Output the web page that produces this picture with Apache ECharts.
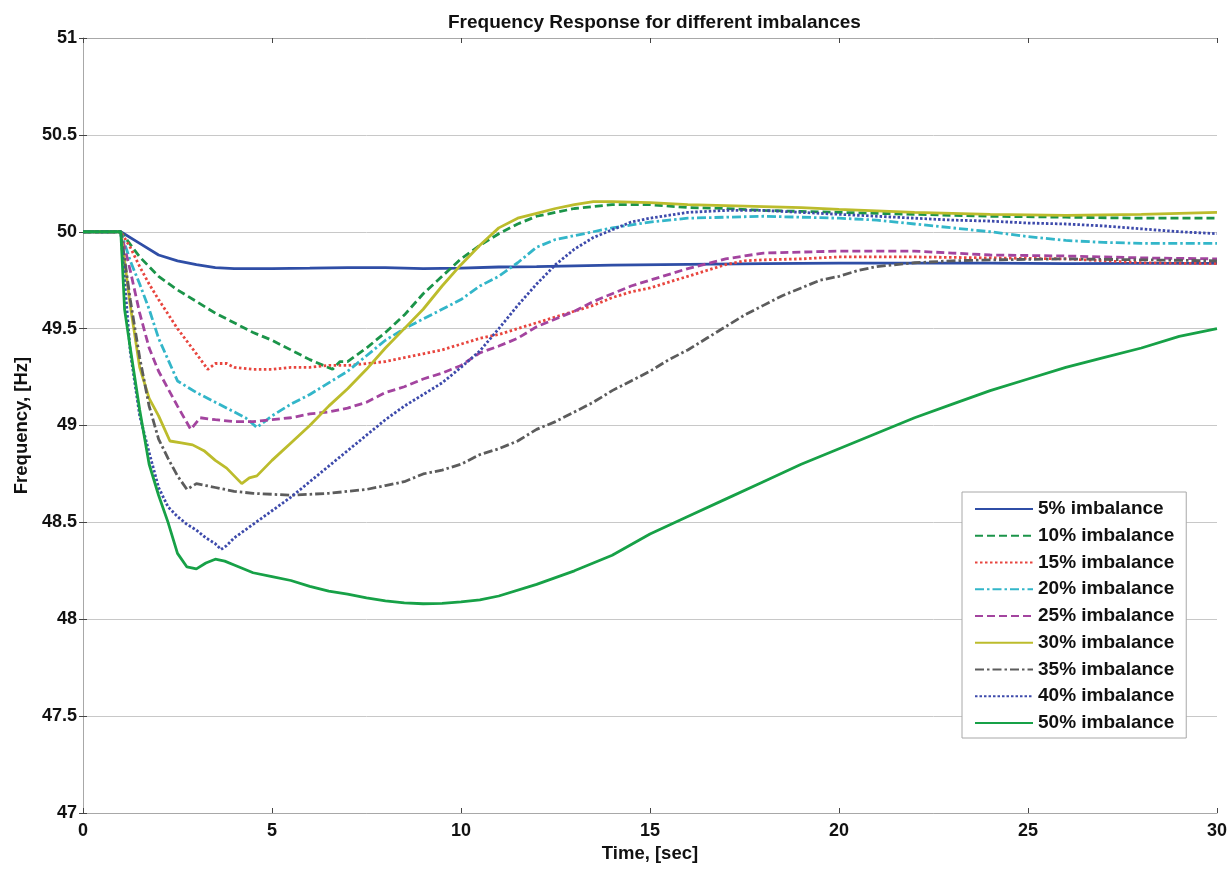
<!DOCTYPE html>
<html>
<head>
<meta charset="utf-8">
<script src="https://cdn.jsdelivr.net/npm/echarts@6/dist/echarts.min.js"></script>
<style>
html,body{margin:0;padding:0;background:#fff;}
#chart{width:1230px;height:869px;}
</style>
</head>
<body>
<div id="chart"></div>
<script>
// ---- data ----
var seriesNames = ['5% imbalance','10% imbalance','15% imbalance','20% imbalance','25% imbalance','30% imbalance','35% imbalance','40% imbalance','50% imbalance'];

var t05 = [0,1,1.5,2,2.5,3,3.5,4,5,6,7,8,9,10,11,12,14,16,18,20,22,24,26,28,30];
var f05 = [50,50,49.94,49.88,49.85,49.83,49.815,49.81,49.81,49.812,49.815,49.815,49.81,49.812,49.818,49.82,49.828,49.832,49.835,49.838,49.838,49.838,49.836,49.837,49.837];

var t10 = [0,1,1.5,2,2.5,3,3.5,4,4.5,5,5.5,6,6.6,6.8,7,7.5,8,8.5,9,9.5,10,10.5,11,11.5,12,12.5,13,13.5,14,15,16,17,18,19,20,22,24,26,28,30];
var f10 = [50,50,49.87,49.77,49.70,49.64,49.58,49.53,49.48,49.44,49.39,49.34,49.29,49.33,49.33,49.40,49.48,49.57,49.68,49.77,49.86,49.93,49.99,50.04,50.08,50.10,50.12,50.13,50.14,50.14,50.125,50.12,50.11,50.105,50.10,50.09,50.08,50.075,50.07,50.07];

var t15 = [0,1,1.25,1.5,1.75,2,2.5,3,3.3,3.5,3.8,4,4.5,5,5.5,6,6.5,7,7.5,8,8.5,9,9.5,10,10.5,11,11.5,12,12.5,13,13.5,14,14.5,15,15.5,16,16.5,17,17.5,18,19,20,22,24,26,28,30];
var f15 = [50,50,49.92,49.82,49.73,49.65,49.50,49.37,49.29,49.32,49.32,49.30,49.29,49.29,49.30,49.30,49.31,49.31,49.32,49.33,49.35,49.37,49.39,49.42,49.45,49.47,49.50,49.53,49.56,49.59,49.62,49.66,49.69,49.71,49.74,49.77,49.80,49.83,49.85,49.855,49.86,49.87,49.87,49.865,49.86,49.84,49.835];

var t20 = [0,1,1.25,1.5,1.75,2,2.5,3,3.5,4,4.3,4.6,5,5.5,6,6.5,7,7.5,8,8.5,9,9.5,10,10.5,11,11.5,12,12.5,13,13.5,14,15,16,17,18,19,20,21,22,23,24,25,26,27,28,29,30];
var f20 = [50,50,49.85,49.73,49.60,49.45,49.23,49.17,49.12,49.07,49.04,48.99,49.05,49.11,49.16,49.22,49.28,49.36,49.44,49.50,49.55,49.60,49.65,49.72,49.77,49.84,49.92,49.96,49.98,50.00,50.02,50.05,50.07,50.075,50.08,50.075,50.07,50.06,50.04,50.02,50.00,49.975,49.955,49.945,49.94,49.94,49.94];

var t25 = [0,1,1.25,1.5,1.75,2,2.5,2.85,3.1,3.5,4,4.5,5,5.5,6,6.5,7,7.5,8,8.5,9,9.5,10,10.5,11,11.5,12,12.5,13,13.5,14,14.5,15,16,17,18,19,20,21,22,23,24,26,28,30];
var f25 = [50,50,49.80,49.58,49.40,49.28,49.10,48.98,49.04,49.03,49.02,49.02,49.03,49.04,49.06,49.07,49.09,49.12,49.17,49.20,49.24,49.27,49.31,49.375,49.41,49.45,49.51,49.55,49.59,49.64,49.68,49.72,49.75,49.81,49.86,49.89,49.895,49.90,49.90,49.90,49.89,49.88,49.875,49.865,49.86];

var t30 = [0,1,1.25,1.5,1.75,2,2.3,2.6,2.9,3.2,3.5,3.8,4.0,4.2,4.4,4.6,5,5.5,6,6.5,7,7.5,8,8.5,9,9.5,10,10.5,11,11.5,12,12.5,13,13.5,14,15,16,17,18,19,20,22,24,26,28,30];
var f30 = [50,50,49.62,49.30,49.14,49.05,48.92,48.91,48.90,48.87,48.82,48.78,48.74,48.70,48.73,48.74,48.82,48.91,49.00,49.10,49.19,49.29,49.40,49.50,49.60,49.72,49.83,49.93,50.02,50.07,50.095,50.12,50.14,50.155,50.155,50.15,50.14,50.135,50.13,50.125,50.115,50.10,50.09,50.085,50.09,50.10];

var t35 = [0,1,1.25,1.5,1.75,2,2.25,2.5,2.75,3,3.25,3.5,4,4.5,5,5.5,6,6.5,7,7.5,8,8.5,9,9.5,10,10.5,11,11.5,12,12.5,13,13.5,14,14.5,15,15.5,16,16.5,17,17.5,18,18.5,19,19.5,20,20.5,21,22,23,24,26,28,30];
var f35 = [50,50,49.65,49.35,49.10,48.93,48.83,48.74,48.67,48.70,48.69,48.68,48.66,48.65,48.645,48.64,48.645,48.65,48.66,48.67,48.69,48.71,48.75,48.77,48.80,48.85,48.88,48.92,48.98,49.02,49.07,49.12,49.18,49.23,49.28,49.34,49.39,49.45,49.51,49.57,49.62,49.67,49.71,49.75,49.77,49.80,49.82,49.84,49.85,49.855,49.86,49.855,49.85];

var t40 = [0,1,1.25,1.5,1.75,2,2.25,2.5,2.75,3,3.25,3.5,3.65,3.8,4,4.5,5,5.5,6,6.5,7,7.5,8,8.5,9,9.5,10,10.5,11,11.5,12,12.5,13,13.5,14,14.5,15,16,17,18,19,20,21,22,23,24,25,26,27,28,29,30];
var f40 = [50,50,49.38,49.05,48.86,48.68,48.58,48.53,48.49,48.46,48.42,48.39,48.36,48.38,48.42,48.49,48.56,48.63,48.71,48.79,48.87,48.95,49.03,49.10,49.16,49.22,49.30,49.385,49.50,49.62,49.73,49.83,49.91,49.97,50.01,50.05,50.07,50.10,50.11,50.11,50.10,50.09,50.08,50.07,50.06,50.055,50.045,50.04,50.03,50.015,50.00,49.99];

var t50 = [0,1,1.1,1.25,1.5,1.75,2,2.25,2.5,2.75,3,3.25,3.5,3.75,4,4.5,5,5.5,6,6.5,7,7.5,8,8.5,9,9.5,10,10.5,11,12,13,14,15,16,17,18,19,20,21,22,23,24,25,26,27,28,29,30];
var f50 = [50,50,49.60,49.40,49.08,48.80,48.64,48.50,48.34,48.27,48.26,48.29,48.31,48.30,48.28,48.24,48.22,48.20,48.17,48.145,48.13,48.11,48.095,48.085,48.08,48.082,48.09,48.10,48.12,48.18,48.25,48.33,48.44,48.53,48.62,48.71,48.80,48.88,48.96,49.04,49.11,49.18,49.24,49.30,49.35,49.40,49.46,49.50];

var xTicks = [0,5,10,15,20,25,30];
var yTicks = [47,47.5,48,48.5,49,49.5,50,50.5,51];

// ---- build ----
var times = [t05,t10,t15,t20,t25,t30,t35,t40,t50];
var freqs = [f05,f10,f15,f20,f25,f30,f35,f40,f50];
var colors = ['#2f4ea6','#1b9449','#e8453e','#33b6c9','#a3449f','#bcbc2c','#5c5c5c','#3d4aab','#17a147'];
var dashes = ['solid',[8,4],[2.5,2.5],[9,3,2.5,3],[8,4],'solid',[9,3,2.5,3],[2.5,2],'solid'];

function pairs(t,f){var out=[];for(var i=0;i<t.length;i++){out.push([t[i],f[i]]);}return out;}

var series = seriesNames.map(function(n,i){
  return {
    name:n, type:'line', xAxisIndex:0, yAxisIndex:0,
    data:pairs(times[i],freqs[i]),
    symbol:'none', smooth:false, animation:false,
    lineStyle:{color:colors[i], width:2.8, type:dashes[i]},
    itemStyle:{color:colors[i]}
  };
});

var FONT = '"Liberation Sans", Arial, sans-serif';
var chart = echarts.init(document.getElementById('chart'), null, {renderer:'canvas'});
chart.setOption({
  backgroundColor:'#ffffff',
  animation:false,
  title:{
    text:'Frequency Response for different imbalances',
    left:443, top:8,
    textStyle:{fontFamily:FONT, fontWeight:'bold', fontSize:19, color:'#111'}
  },
  grid:{left:83, right:12, top:38, bottom:56, show:false},
  legend:{
    orient:'vertical', left:962, top:492,
    padding:[7,12,5,12],
    itemWidth:58, itemHeight:14, itemGap:6.75,
    backgroundColor:'#ffffff', borderColor:'#a8a8a8', borderWidth:1,
    itemStyle:{opacity:0},
    textStyle:{fontFamily:FONT, fontWeight:'bold', fontSize:19, color:'#111', lineHeight:20},
    data:seriesNames
  },
  xAxis:[{
    type:'value', min:xTicks[0], max:xTicks[xTicks.length-1], interval:5,
    position:'bottom',
    name:'Time, [sec]', nameLocation:'middle', nameGap:31,
    nameTextStyle:{fontFamily:FONT, fontWeight:'bold', fontSize:18.5, color:'#111'},
    axisLine:{show:true, lineStyle:{color:'#a8a8a8', width:1}},
    axisTick:{show:true, inside:true, length:5, lineStyle:{color:'#444'}},
    axisLabel:{fontFamily:FONT, fontWeight:'bold', fontSize:18, color:'#111', margin:9},
    splitLine:{show:false}
  },{
    type:'value', min:xTicks[0], max:xTicks[xTicks.length-1], interval:5,
    position:'top',
    axisLine:{show:true, lineStyle:{color:'#a8a8a8', width:1}},
    axisTick:{show:true, inside:true, length:5, lineStyle:{color:'#444'}},
    axisLabel:{show:false}, splitLine:{show:false}
  }],
  yAxis:[{
    type:'value', min:yTicks[0], max:yTicks[yTicks.length-1], interval:0.5,
    position:'left',
    name:'Frequency, [Hz]', nameLocation:'middle', nameGap:52, nameRotate:90,
    nameTextStyle:{fontFamily:FONT, fontWeight:'bold', fontSize:18.5, color:'#111'},
    axisLine:{show:true, lineStyle:{color:'#a8a8a8', width:1}},
    axisTick:{show:true, inside:true, length:4, lineStyle:{color:'#444'}},
    axisLabel:{fontFamily:FONT, fontWeight:'bold', fontSize:18, color:'#111', margin:6},
    splitLine:{show:true, lineStyle:{color:'#c8c8c8', width:1}}
  },{
    type:'value', min:yTicks[0], max:yTicks[yTicks.length-1], interval:0.5,
    position:'right',
    axisLine:{show:true, lineStyle:{color:'#a8a8a8', width:1}},
    axisTick:{show:true, inside:true, length:4, lineStyle:{color:'#444'}},
    axisLabel:{show:false}, splitLine:{show:false}
  }],
  series:series
});
</script>
</body>
</html>
